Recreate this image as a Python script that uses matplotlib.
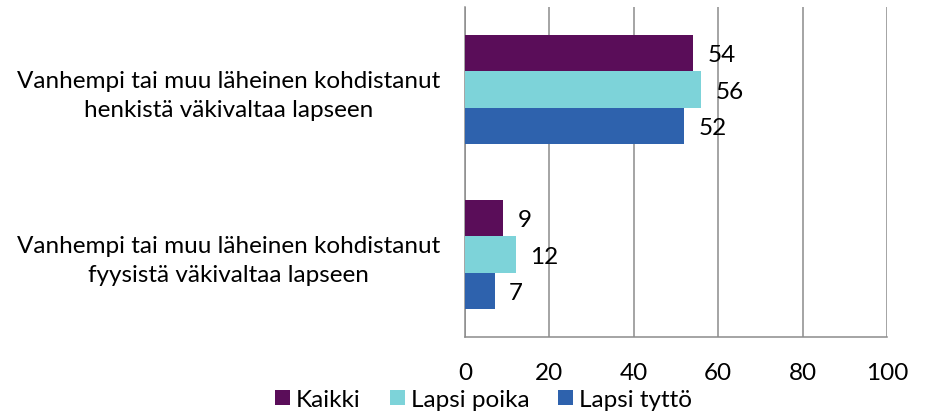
import matplotlib
matplotlib.use("Agg")
import matplotlib.pyplot as plt
import numpy as np

plt.rcParams['font.family'] = ['Lato', 'DejaVu Sans']

categories = ["Vanhempi tai muu läheinen kohdistanut\nhenkistä väkivaltaa lapseen",
              "Vanhempi tai muu läheinen kohdistanut\nfyysistä väkivaltaa lapseen"]
series_names = ["Kaikki", "Lapsi poika", "Lapsi tyttö"]
kaikki = [54, 9]
poika = [56, 12]
tytto = [52, 7]
xticks = [0, 20, 40, 60, 80, 100]
colors = ["#5A0D59", "#7DD3D9", "#2E62AD"]

FS = 17.5

fig = plt.figure(figsize=(9.25, 4.14), dpi=100)
ax = fig.add_axes([0.5027, 0.1836, 0.4562, 0.7974])

y = np.arange(len(categories))
h = 0.22
offsets = [-h, 0, h]
for vals, name, col, off in zip([kaikki, poika, tytto], series_names, colors, offsets):
    ax.barh(y + off, vals, height=h, color=col, label=name, zorder=3)
    for yy, v in zip(y + off, vals):
        ax.text(v + 3.4, yy + 0.01, str(v), va='center', ha='left', fontsize=FS, color='#000000', zorder=4)

ax.set_xlim(0, 100)
ax.set_ylim(1.5, -0.5)
ax.set_xticks(xticks)
ax.set_xticklabels([str(t) for t in xticks], fontsize=FS)
ax.set_yticks(y)
ax.set_yticklabels(categories, fontsize=FS, linespacing=1.45)
for lab in ax.get_yticklabels():
    lab.set_multialignment('center')
ax.tick_params(axis='x', length=0, pad=18)
ax.tick_params(axis='y', length=0, pad=18)
ax.grid(axis='x', color='#8C8C8C', linewidth=1.1, zorder=0)
for s in ['top', 'right']:
    ax.spines[s].set_visible(False)
for s in ['left', 'bottom']:
    ax.spines[s].set_color('#8C8C8C')
    ax.spines[s].set_linewidth(1.1)

fig.legend(loc='center', bbox_to_anchor=(0.523, 0.033), ncol=3, frameon=False,
           fontsize=FS, handlelength=0.6, handleheight=0.6, handletextpad=0.25,
           columnspacing=1.2, borderaxespad=0)

fig.savefig("out.png", dpi=100)
